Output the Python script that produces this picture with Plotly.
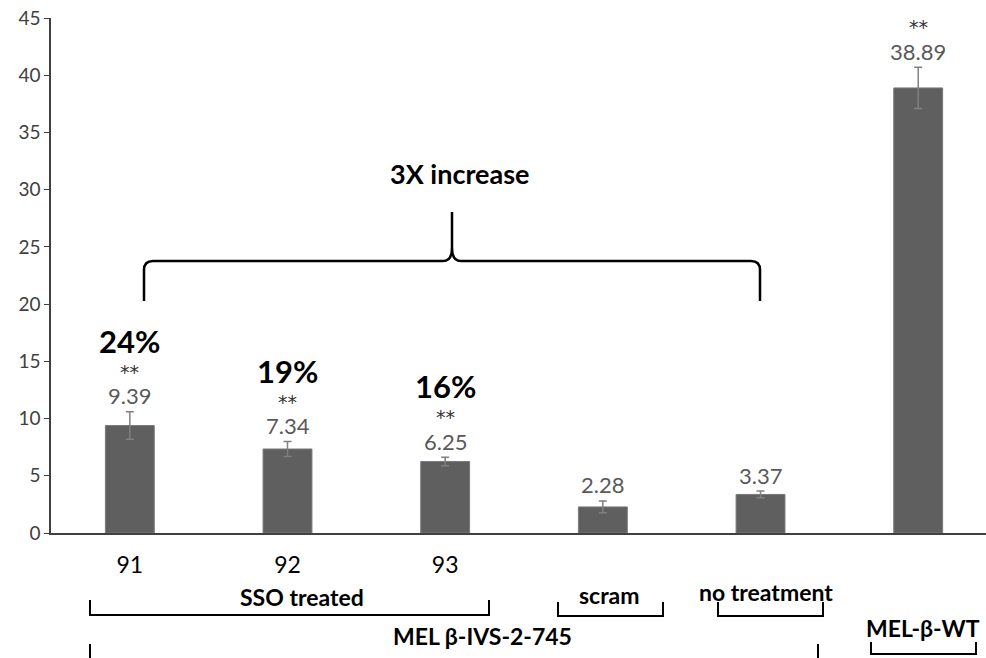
import plotly.graph_objects as go

# Relative expression per sample with SD
tick_labels = ["91", "92", "93", "", "", ""]
values = [9.39, 7.34, 6.25, 2.28, 3.37, 38.89]
errors = [1.2, 0.65, 0.37, 0.52, 0.3, 1.8]
stars = ["**", "**", "**", "", "", "**"]
percents = ["24%", "19%", "16%", "", "", ""]

W, H = 986, 658
ML, MR, MT, MB = 51, 0, 18, 125
PW, PH = W - ML - MR, H - MT - MB
FONT = "Lato"


def xp(px):
    return (px - ML) / PW


def yp(py):
    return (H - MB - py) / PH


positions = list(range(len(values)))

fig = go.Figure()
fig.add_trace(go.Bar(
    x=positions, y=values, width=0.31,
    marker=dict(color="#5f5f5f", line=dict(color="#7a7a7a", width=1)),
    error_y=dict(type="data", array=errors, visible=True,
                 color="#808080", thickness=1.5, width=4),
    hoverinfo="skip", showlegend=False,
))

annotations = []
# Labels stacked above each error bar: value, significance stars, percentage
for i, (v, e) in enumerate(zip(values, errors)):
    top = v + e
    annotations.append(dict(x=i, y=top, xref="x", yref="y", text=f"{v:.2f}",
                            showarrow=False, yanchor="middle", yshift=16,
                            font=dict(family=FONT, size=22, color="#595959")))
    if stars[i]:
        annotations.append(dict(x=i, y=top, xref="x", yref="y", text=stars[i],
                                showarrow=False, yanchor="middle", yshift=40,
                                font=dict(family="DejaVu Sans", size=19, color="#333333")))
    if percents[i]:
        annotations.append(dict(x=i, y=top, xref="x", yref="y", text=f"<b>{percents[i]}</b>",
                                showarrow=False, yanchor="middle", yshift=71,
                                font=dict(family=FONT, size=31, color="#000000")))

# Group captions under the axis and the brace title
captions = [
    ("3X increase", 460, 174, 27),
    ("SSO treated", 302, 597, 23),
    ("scram", 609, 595, 23),
    ("no treatment", 766, 592, 23),
    ("MEL β-IVS-2-745", 482, 636, 23),
    ("MEL-β-WT", 923, 628, 23),
]
for txt, cx, cy, fs in captions:
    annotations.append(dict(x=xp(cx), y=yp(cy), xref="paper", yref="paper",
                            text=f"<b>{txt}</b>", showarrow=False,
                            xanchor="center", yanchor="middle",
                            font=dict(family=FONT, size=fs, color="#000000")))


def path_px(points_cmds):
    out = []
    for cmd, *pts in points_cmds:
        coords = " ".join(f"{xp(pts[k]):.5f},{yp(pts[k + 1]):.5f}" for k in range(0, len(pts), 2))
        out.append(f"{cmd} {coords}")
    return " ".join(out)


shapes = []
# Curly brace over the treated/untreated bars
brace = path_px([
    ("M", 144, 301), ("L", 144, 270), ("Q", 144, 261, 153, 261),
    ("L", 443, 261), ("Q", 452, 261, 452, 248), ("L", 452, 212),
    ("L", 452, 248), ("Q", 452, 261, 461, 261), ("L", 751, 261),
    ("Q", 760, 261, 760, 270), ("L", 760, 301),
])
shapes.append(dict(type="path", path=brace, xref="paper", yref="paper",
                   line=dict(color="#000000", width=2.5)))


def bracket(x1, x2, ytop, ybot):
    return dict(type="path", xref="paper", yref="paper",
                path=path_px([("M", x1, ytop), ("L", x1, ybot), ("L", x2, ybot), ("L", x2, ytop)]),
                line=dict(color="#000000", width=2))


shapes += [
    bracket(90, 489, 600, 615),
    bracket(558, 663, 602, 616),
    bracket(718, 823, 602, 616),
    bracket(871, 976, 642, 654),
]
for vx in (90, 818):
    shapes.append(dict(type="line", xref="paper", yref="paper",
                       x0=xp(vx), x1=xp(vx), y0=yp(644), y1=yp(662),
                       line=dict(color="#000000", width=2)))

fig.update_layout(
    width=W, height=H,
    margin=dict(l=ML, r=MR, t=MT, b=MB, pad=0),
    paper_bgcolor="white", plot_bgcolor="white",
    font=dict(family=FONT),
    annotations=annotations, shapes=shapes,
    xaxis=dict(range=[-0.5, 5.43], tickmode="array", tickvals=positions,
               ticktext=tick_labels, showline=True, linecolor="#404040",
               linewidth=1.5, ticks="", showgrid=False, zeroline=False,
               ticklabelstandoff=11,
               tickfont=dict(family=FONT, size=23, color="#000000")),
    yaxis=dict(range=[0, 45], dtick=5, showline=True, linecolor="#404040",
               linewidth=1.5, ticks="outside", ticklen=5, tickcolor="#404040",
               showgrid=False, zeroline=False,
               tickfont=dict(family=FONT, size=19, color="#404040")),
)

fig.write_html("out.html")
